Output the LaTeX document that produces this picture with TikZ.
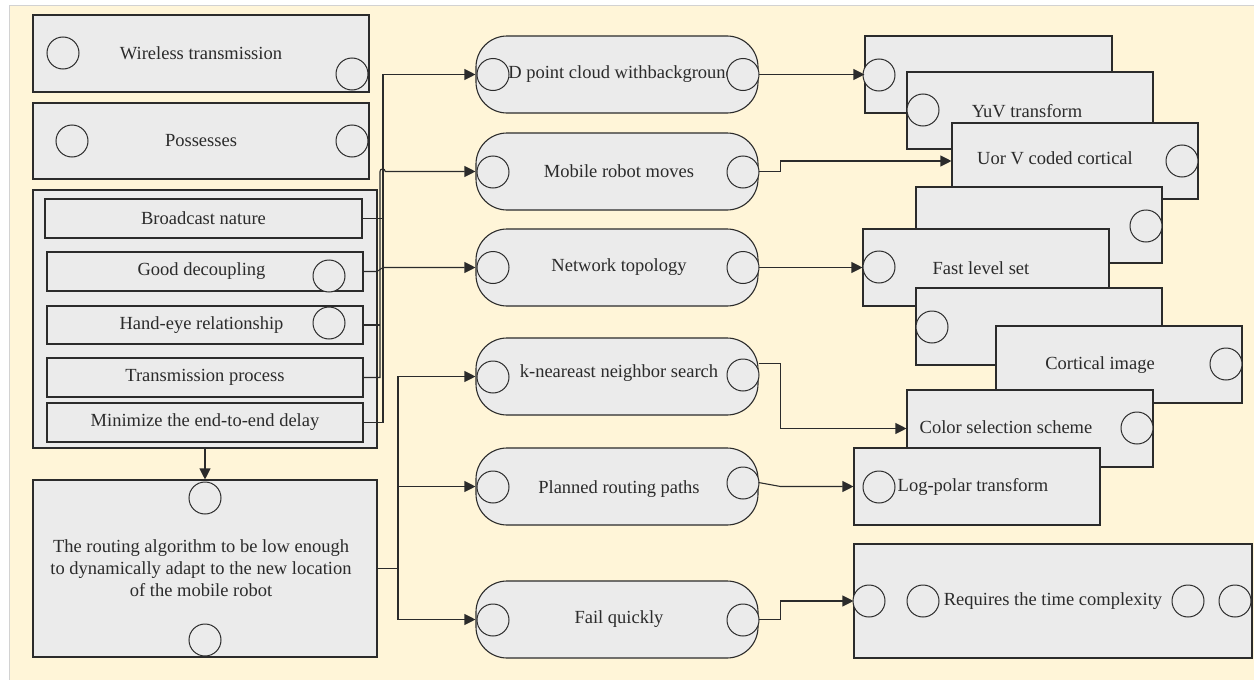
\documentclass[tikz,border=0pt]{standalone}
\usepackage{fontspec}
\setmainfont{Liberation Serif}
\usetikzlibrary{arrows.meta}
\definecolor{paper}{HTML}{FFF5D8}
\definecolor{boxfill}{HTML}{EBEBEB}
\definecolor{ink}{HTML}{2B2B2B}
\definecolor{frame}{HTML}{D2D2D2}

\begin{document}
\begin{tikzpicture}[x=1pt,y=-1pt,
  every node/.style={font=\rmfamily\fontsize{18.5}{22}\selectfont, text=ink},
  sqbox/.style={draw=ink, fill=boxfill, line width=1.1pt, inner sep=0pt},
  pill/.style={sqbox, rounded corners=31pt},
  plain/.style={inner sep=0pt},
  port/.style={circle, draw=ink, fill=boxfill, line width=1pt, minimum size=32pt, inner sep=0pt},
  link/.style={draw=ink, line width=1.1pt},
  flow/.style={link, -{Triangle[length=11pt,width=11pt]}},
]
\useasboundingbox (0,0) rectangle (1254,680);
\fill[white] (0,0) rectangle (1254,680);
\draw[frame, fill=paper, line width=1pt] (9,5) rectangle (1270,700);

% ---------- left column ----------
\node[sqbox, minimum width=336, minimum height=77] (wt) at (201,53.5) {Wireless transmission};
\node[port] (wt-l) at (63,53) {};
\node[port] (wt-r) at (352,74) {};

\node[sqbox, minimum width=336, minimum height=76] (ps) at (201,141) {Possesses};
\node[port] (ps-l) at (72,141) {};
\node[port] (ps-r) at (352,141) {};

\node[sqbox, minimum width=344, minimum height=258] (grp) at (205,319) {};
\node[sqbox, minimum width=317, minimum height=39] (bc) at (203.5,218.5) {Broadcast nature};
\node[sqbox, minimum width=316, minimum height=39] (gd) at (205,271.5) {\hspace*{-7pt}Good decoupling};
\node[port] (gd-c) at (329,276) {};
\node[sqbox, minimum width=316, minimum height=38] (he) at (205,325) {\hspace*{-7pt}Hand-eye relationship};
\node[port] (he-c) at (329,323) {};
\node[sqbox, minimum width=316, minimum height=39] (tp) at (205,377.5) {Transmission process};
\node[sqbox, minimum width=316, minimum height=39] (mz) at (205,422.5) {Minimize the end-to-end delay};

\node[sqbox, minimum width=344, minimum height=177] (rt) at (205,568.5) {};
\node[plain, align=center] (rt-t) at (201,568) {The routing algorithm to be low enough\\to dynamically adapt to the new location\\of the mobile robot};
\node[port] (rt-a) at (205,498) {};
\node[port] (rt-b) at (205,640) {};

% ---------- middle column ----------
\node[pill, minimum width=282, minimum height=77] (pc) at (617,74.5) {3D point cloud withbackground};
\node[port] (pc-l) at (493,74.5) {};
\node[port] (pc-r) at (743,74.5) {};

\node[pill, minimum width=282, minimum height=77] (mr) at (617,171.5) {\hspace*{4pt}Mobile robot moves};
\node[port] (mr-l) at (493,172) {};
\node[port] (mr-r) at (743,172) {};

\node[pill, minimum width=282, minimum height=77] (nt) at (617,267.5) {\hspace*{4pt}Network topology};
\node[port] (nt-l) at (493,267.5) {};
\node[port] (nt-r) at (743,267.5) {};

\node[pill, minimum width=282, minimum height=77] (kn) at (617,376.5) {};
\node[plain] (kn-t) at (619,373) {k-neareast neighbor search};
\node[port] (kn-l) at (493,377) {};
\node[port] (kn-r) at (743,375) {};

\node[pill, minimum width=282, minimum height=77] (pr) at (617,486.5) {};
\node[plain] (pr-t) at (619,489) {Planned routing paths};
\node[port] (pr-l) at (493,487) {};
\node[port] (pr-r) at (743,483) {};

\node[pill, minimum width=282, minimum height=77] (fq) at (617,619.5) {\hspace*{4pt}Fail quickly};
\node[port] (fq-l) at (493,620) {};
\node[port] (fq-r) at (743,620) {};

% ---------- right column (stacked cards) ----------
\node[sqbox, minimum width=247, minimum height=77] (ca) at (988.5,74.5) {};
\node[port] (ca-c) at (879,75) {};

\node[sqbox, minimum width=246, minimum height=77] (cb) at (1030,110.5) {};
\node[port] (cb-c) at (923,110) {};
\node[plain] (cb-t) at (1027,111) {YuV transform};

\node[sqbox, minimum width=246, minimum height=76] (cc) at (1075,161) {};
\node[port] (cc-c) at (1182,161) {};
\node[plain] (cc-t) at (1055,158) {Uor V coded cortical};

\node[sqbox, minimum width=246, minimum height=76] (cd) at (1039,225) {};
\node[port] (cd-c) at (1146,226) {};

\node[sqbox, minimum width=246, minimum height=77] (ce) at (986,267.5) {};
\node[port] (ce-c) at (879,267) {};
\node[plain] (ce-t) at (981,268) {Fast level set};

\node[sqbox, minimum width=246, minimum height=77] (cf) at (1039,326.5) {};
\node[port] (cf-c) at (932,327) {};

\node[sqbox, minimum width=246, minimum height=77] (cg) at (1119,364.5) {};
\node[port] (cg-c) at (1226,364) {};
\node[plain] (cg-t) at (1100,365) {Cortical image};

\node[sqbox, minimum width=246, minimum height=77] (ch) at (1030,428.5) {};
\node[port] (ch-c) at (1137,428) {};
\node[plain] (ch-t) at (1006,427) {Color selection scheme};

\node[sqbox, minimum width=246, minimum height=77] (ci) at (977,486.5) {};
\node[port] (ci-c) at (879,487) {};
\node[plain] (ci-t) at (973,487) {Log-polar transform};

\node[sqbox, minimum width=398, minimum height=114] (cj) at (1053,601) {Requires the time complexity};
\node[port] (cj-a) at (869,601) {};
\node[port] (cj-b) at (923,601) {};
\node[port] (cj-c) at (1188,601) {};
\node[port] (cj-d) at (1235,601) {};

% ---------- connectors ----------
\draw[flow] (grp.south) -- (rt.north);

\coordinate (busA) at (383,0);
\coordinate (busB) at (380,0);
\coordinate (busC) at (377,0);
\coordinate (busD) at (398,568.5);

\draw[flow] (mz.east) -| (busA |- pc.west) -- (pc.west);
\draw[link] (bc.east) -- (bc.east -| busA);
\draw[flow] (tp.east) -- (tp.east -| busB) -- (busB |- mr.west)
  arc[start angle=180, end angle=0, radius=2.6pt] -- (mr.west);
\draw[link] (he.east) -- (he.east -| busB);
\draw[flow] (gd.east) -- (gd.east -| busC) -- (busA |- nt.west) -- (nt.west);

\draw[link] (rt.east) -- (busD);
\draw[flow] (busD) |- (kn.west);
\draw[flow] (busD) |- (pr.west);
\draw[flow] (busD) |- (fq.west);

\draw[flow] (pc.east) -- (ca.west);
\draw[flow] (mr.east) -- ++(22,0) |- (cc.west);
\draw[flow] (nt.east) -- (ce.west);
\draw[flow] ([yshift=13pt]kn.east) -- ++(22,0) |- (ch.west);
\draw[flow] ([yshift=4pt]pr.east) -- ++(22,4) -- (ci.west);
\draw[flow] (fq.east) -- ++(22,0) |- (cj.west);
\end{tikzpicture}
\end{document}
